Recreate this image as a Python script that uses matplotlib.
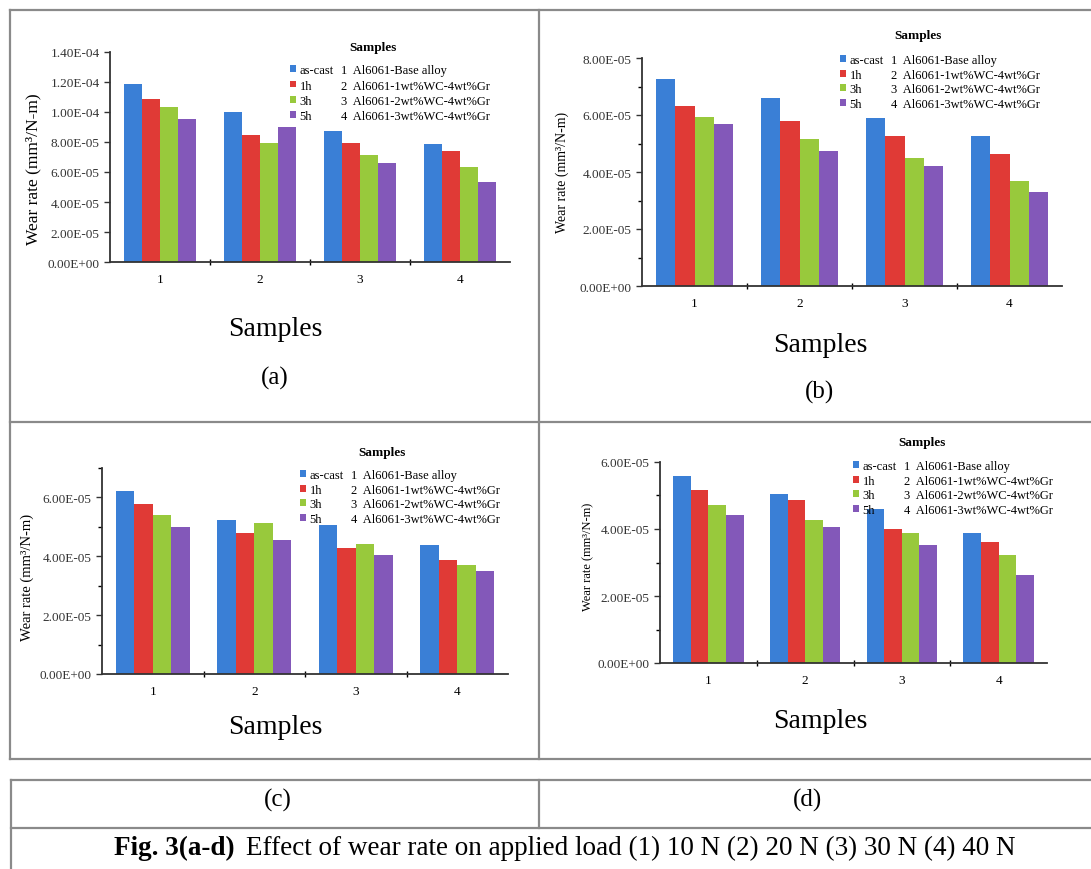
import numpy as np
import matplotlib.pyplot as plt
from matplotlib.lines import Line2D
from matplotlib.patches import Rectangle
from matplotlib.ticker import FuncFormatter, MultipleLocator

plt.rcParams['font.family'] = ['Liberation Serif', 'DejaVu Serif']

samples = ['1', '2', '3', '4']
series = ['as-cast', '1h', '3h', '5h']
sample_names = ['1  Al6061-Base alloy', '2  Al6061-1wt%WC-4wt%Gr',
                '3  Al6061-2wt%WC-4wt%Gr', '4  Al6061-3wt%WC-4wt%Gr']
colors = ['#3a7fd6', '#e03a36', '#98c93c', '#8358b9']

# wear rate (mm3/N-m), rows: as-cast, 1h, 3h, 5h
wear_a = [[1.19e-4, 1.00e-4, 8.75e-5, 7.90e-5],
          [1.085e-4, 8.46e-5, 7.91e-5, 7.40e-5],
          [1.034e-4, 7.91e-5, 7.16e-5, 6.36e-5],
          [9.53e-5, 9.02e-5, 6.60e-5, 5.32e-5]]
wear_b = [[7.25e-5, 6.59e-5, 5.89e-5, 5.28e-5],
          [6.31e-5, 5.79e-5, 5.26e-5, 4.63e-5],
          [5.92e-5, 5.16e-5, 4.48e-5, 3.67e-5],
          [5.69e-5, 4.73e-5, 4.21e-5, 3.31e-5]]
wear_c = [[6.21e-5, 5.25e-5, 5.05e-5, 4.39e-5],
          [5.76e-5, 4.80e-5, 4.28e-5, 3.86e-5],
          [5.41e-5, 5.13e-5, 4.42e-5, 3.69e-5],
          [4.99e-5, 4.54e-5, 4.03e-5, 3.49e-5]]
wear_d = [[5.57e-5, 5.05e-5, 4.59e-5, 3.88e-5],
          [5.17e-5, 4.86e-5, 4.01e-5, 3.60e-5],
          [4.73e-5, 4.26e-5, 3.88e-5, 3.21e-5],
          [4.41e-5, 4.06e-5, 3.53e-5, 2.64e-5]]

W, H = 1091, 870
fig = plt.figure(figsize=(W / 100, H / 100), dpi=100)


def box(l, t, r, b):
    return [l / W, 1 - b / H, (r - l) / W, (b - t) / H]


def hline(x0, x1, y):
    fig.add_artist(Line2D([x0 / W, x1 / W], [1 - y / H, 1 - y / H],
                          transform=fig.transFigure, color='#8a8a8a', lw=1.6))


def vline(x, y0, y1):
    fig.add_artist(Line2D([x / W, x / W], [1 - y0 / H, 1 - y1 / H],
                          transform=fig.transFigure, color='#8a8a8a', lw=1.6))


def panel(rect, data, ymax, minor, ylab, title_xy, leg_xy, leg_space):
    l, t, r, b = rect
    ax = fig.add_axes(box(*rect))
    x = np.arange(len(samples))
    w = 1 / 5.5
    bars = []
    for i, vals in enumerate(data):
        bars.append(ax.bar(x + (i - 1.5) * w, vals, w, color=colors[i], label=series[i]))
    ax.set_xlim(-0.5, 3.5)
    ax.set_ylim(0, ymax)
    ax.yaxis.set_major_locator(MultipleLocator(2e-5))
    if minor:
        ax.yaxis.set_minor_locator(MultipleLocator(1e-5))
    ax.yaxis.set_major_formatter(FuncFormatter(lambda v, p: f'{v:.2E}'))
    ax.set_xticks(x)
    ax.set_xticklabels(samples)
    ax.set_xticks([0.5, 1.5, 2.5], minor=True)
    ax.tick_params(axis='x', which='major', length=0, pad=8, labelsize=9.5)
    ax.tick_params(axis='x', which='minor', length=4, direction='inout', width=1)
    ax.tick_params(axis='y', which='major', length=4, width=1, labelsize=9.5, colors='#333333')
    ax.tick_params(axis='y', which='minor', length=3, width=1)
    for s in ['top', 'right']:
        ax.spines[s].set_visible(False)
    for s in ['left', 'bottom']:
        ax.spines[s].set_color('#333333')
        ax.spines[s].set_linewidth(1.3)
    # ylab: (center x px, center y px, fontsize)
    ax.set_ylabel('Wear rate (mm³/N-m)', fontsize=ylab[2])
    ax.yaxis.label.set_verticalalignment('center')
    ax.yaxis.set_label_coords((ylab[0] - l) / (r - l), (b - ylab[1]) / (b - t))

    fig.text(title_xy[0] / W, 1 - title_xy[1] / H, 'Samples', fontsize=9.5,
             fontweight='bold', ha='center', va='center')
    blanks = [Rectangle((0, 0), 1, 1, visible=False) for _ in sample_names]
    ax.legend(bars + blanks, series + sample_names, ncol=2,
              loc='upper left', bbox_to_anchor=(leg_xy[0] / W, 1 - leg_xy[1] / H),
              bbox_transform=fig.transFigure, frameon=False, fontsize=9,
              handlelength=0.45, handleheight=0.45, handletextpad=0.3,
              labelspacing=leg_space, columnspacing=-0.2, borderpad=0)
    return ax


panel((110, 53, 510, 263), wear_a, 1.4e-4, False, (33, 169, 12.5), (373, 48), (284, 59), 0.26)
panel((642, 59, 1062, 287), wear_b, 8e-5, True, (562, 172, 10), (918, 36), (834, 49), 0.2)
panel((102, 469, 508, 675), wear_c, 7e-5, True, (27, 577, 10.5), (382, 453), (294, 464), 0.2)
panel((660, 463, 1047, 664), wear_d, 6e-5, True, (588, 557, 9), (922, 443), (847, 455), 0.2)

# panel captions
fig.text(275 / W, 1 - 330 / H, 'Samples', fontsize=20, ha='center', va='center')
fig.text(275 / W, 1 - 378 / H, '(a)', fontsize=18, ha='center', va='center')
fig.text(820 / W, 1 - 345 / H, 'Samples', fontsize=20, ha='center', va='center')
fig.text(820 / W, 1 - 392 / H, '(b)', fontsize=18, ha='center', va='center')
fig.text(275 / W, 1 - 728 / H, 'Samples', fontsize=20, ha='center', va='center')
fig.text(820 / W, 1 - 722 / H, 'Samples', fontsize=20, ha='center', va='center')
fig.text(278 / W, 1 - 800 / H, '(c)', fontsize=18, ha='center', va='center')
fig.text(807 / W, 1 - 800 / H, '(d)', fontsize=18, ha='center', va='center')

fig.text(235 / W, 1 - 848 / H, 'Fig. 3(a-d)', fontsize=19.5, fontweight='bold',
         ha='right', va='center')
fig.text(246 / W, 1 - 848 / H,
         'Effect of wear rate on applied load (1) 10 N (2) 20 N (3) 30 N (4) 40 N',
         fontsize=19.5, ha='left', va='center')

# table borders
hline(10, W + 5, 11)
hline(10, W + 5, 423)
hline(10, W + 5, 760)
vline(10, 11, 760)
vline(539, 11, 760)
hline(11, W + 5, 781)
hline(11, W + 5, 829)
vline(11, 781, H + 5)
vline(539, 781, 829)

fig.savefig('out.png', dpi=100)
